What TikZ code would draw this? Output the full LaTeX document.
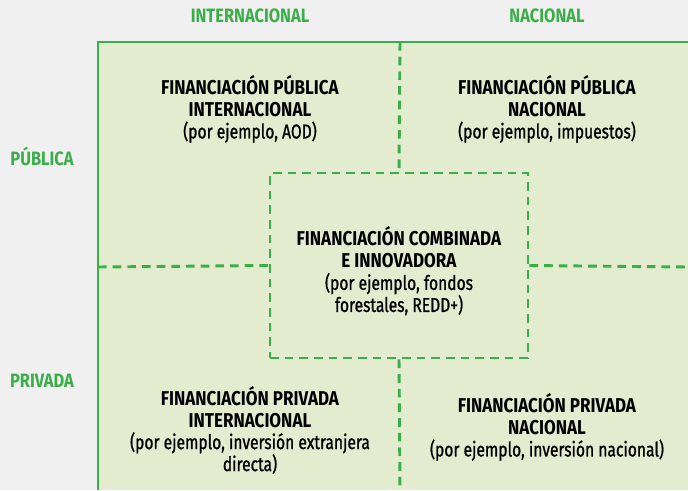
\documentclass[tikz,border=0pt]{standalone}
\usepackage{fontspec}
\setmainfont[FakeStretch=0.85]{Fira Sans}
\newfontfamily\paren[FakeStretch=0.78, FakeBold=1]{Fira Sans}
\usepackage{tikz}
\usetikzlibrary{positioning}
\definecolor{verde}{HTML}{3BAE49}
\definecolor{fondo}{HTML}{E4ECD0}
\definecolor{gris}{HTML}{F0F0F0}
\tikzstyle{cell} = [align=center, text=black, inner sep=0pt, font=\fontsize{15}{16.5}\selectfont]
\tikzstyle{axis} = [text=verde, inner sep=0pt, font=\bfseries\fontsize{14.5}{16}\selectfont]
\tikzstyle{frame} = [draw=verde, line width=2.2pt]
\tikzstyle{divider} = [draw=verde, line width=2.2pt, dash pattern=on 6.5pt off 4.5pt]

\begin{document}
\begin{tikzpicture}[x=0.75pt, y=-0.75pt]
	  \useasboundingbox[fill=gris] (0,0) rectangle (688,490);
	  \fill[fondo] (98,42) rectangle (688,490);
	
	  \coordinate (corner) at (98,42);
	  \coordinate (topend) at (688,42);
	  \coordinate (leftend) at (98,490);
	  \coordinate (topmid) at (400,42);
	  \coordinate (botmid) at (400,490);
	  \coordinate (leftmid) at (98,267);
	  \coordinate (rightmid) at (688,267);
	
	  \node [axis] (intl) at (250,16) {INTERNACIONAL};
	  \node [axis] (nacl) at (547,16) {NACIONAL};
	  \node [axis] (publ) at (42,156) {PÚBLICA};
	  \node [axis] (priv) at (42,381) {PRIVADA};
	
	  \node [cell, divider, minimum width=193.5pt, minimum height=138.75pt] (comb) at (399,265.5) {};
	  \node [cell] (combtext) at (399,271) {\textbf{FINANCIACIÓN COMBINADA}\\ \textbf{E INNOVADORA}\\ {\paren (por ejemplo, fondos}\\ {\paren forestales, REDD+)}};
	  \node [cell] (pubint) at (250,109) {\textbf{FINANCIACIÓN PÚBLICA}\\ \textbf{INTERNACIONAL}\\ {\paren (por ejemplo, AOD)}};
	  \node [cell] (pubnac) at (547,109) {\textbf{FINANCIACIÓN PÚBLICA}\\ \textbf{NACIONAL}\\ {\paren (por ejemplo, impuestos)}};
	  \node [cell] (privint) at (250,430) {\textbf{FINANCIACIÓN PRIVADA}\\ \textbf{INTERNACIONAL}\\ {\paren (por ejemplo, inversión extranjera}\\ {\paren directa)}};
	  \node [cell] (privnac) at (547,427) {\textbf{FINANCIACIÓN PRIVADA}\\ \textbf{NACIONAL}\\ {\paren (por ejemplo, inversión nacional)}};
	
	  \draw [frame] (leftend) -- (corner) -- (topend);
	  \draw [divider] (topmid) -- (comb.north);
	  \draw [divider] (comb.south) -- (botmid);
	  \draw [divider] (leftmid) -- (comb.west);
	  \draw [divider] (comb.east) -- (rightmid);
	\end{tikzpicture}
\end{document}
